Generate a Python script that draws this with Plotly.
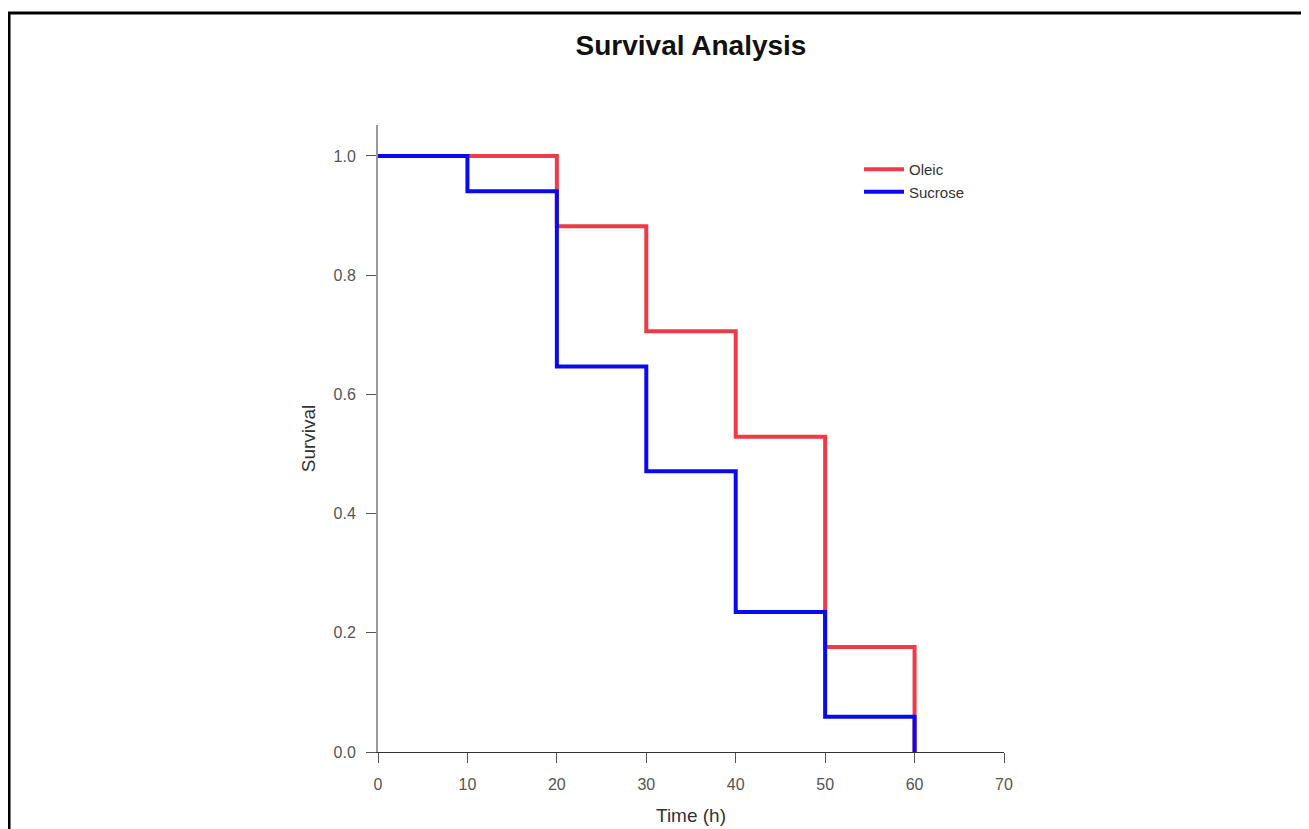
import plotly.graph_objects as go

# ---- data ----
oleic_time = [0, 20, 30, 40, 50, 60]
oleic_surv = [1.0, 0.882, 0.706, 0.529, 0.176, 0.0]
sucrose_time = [0, 10, 20, 30, 40, 50, 60]
sucrose_surv = [1.0, 0.941, 0.647, 0.471, 0.235, 0.059, 0.0]
x_ticks = [0, 10, 20, 30, 40, 50, 60, 70]
y_ticks = [0.0, 0.2, 0.4, 0.6, 0.8, 1.0]
y_tick_labels = ["0.0", "0.2", "0.4", "0.6", "0.8", "1.0"]

OFF = 8  # default body margin of the page
W, H = 1309 - OFF, 829 - OFF
# plot area in page pixels: x 378..1004, y 125..752
L, T = 378 - OFF, 125 - OFF
R = W - (1004 - OFF)
B = H - (752 - OFF)
pw, ph = W - L - R, H - T - B

def px_x(p):  # page pixel -> paper
    return (p - OFF - L) / pw

def px_y(p):
    return (H - B - (p - OFF)) / ph

FONT = "Liberation Sans, Arial, sans-serif"

fig = go.Figure()
fig.add_trace(go.Scatter(x=oleic_time, y=oleic_surv, mode="lines", name="Oleic",
                         line=dict(color="#ee3b47", width=4, shape="hv")))
fig.add_trace(go.Scatter(x=sucrose_time, y=sucrose_surv, mode="lines", name="Sucrose",
                         line=dict(color="#0a0aee", width=4, shape="hv")))

fig.update_layout(
    width=W, height=H, autosize=False,
    margin=dict(l=L, r=R, t=T, b=B, pad=0, autoexpand=False),
    paper_bgcolor="white", plot_bgcolor="white",
    font=dict(family=FONT, color="#444"),
    title=dict(text="<b>Survival Analysis</b>", x=0.5, xref="paper", xanchor="center",
               y=1 - (45 - OFF) / H, yref="container", yanchor="middle",
               font=dict(size=28, color="#111", family=FONT)),
    showlegend=True,
    legend=dict(x=px_x(859), y=px_y(153), xanchor="left", yanchor="top",
                bgcolor="rgba(0,0,0,0)", itemwidth=40,
                font=dict(size=15, color="#333", family=FONT), tracegroupgap=0),
    xaxis=dict(range=[0, 70], tickvals=x_ticks, ticks="outside", ticklen=10,
               tickcolor="#555", tickwidth=1, showline=True, linecolor="#333",
               linewidth=1, showgrid=False, zeroline=False, ticklabelstandoff=8,
               automargin=False, tickfont=dict(size=16, color="#555"),
               title=dict(text="Time (h)", font=dict(size=19, color="#333"), standoff=16)),
    yaxis=dict(range=[0, 1.052], tickvals=y_ticks, ticktext=y_tick_labels,
               ticks="outside", ticklen=10, tickcolor="#555", tickwidth=1,
               showline=True, linecolor="#999", linewidth=2, showgrid=False,
               zeroline=False, ticklabelstandoff=7, automargin=False,
               tickfont=dict(size=16, color="#555"),
               title=dict(text="Survival", font=dict(size=19, color="#333"), standoff=13)),
    shapes=[
        dict(type="line", xref="paper", yref="paper", x0=px_x(9), x1=px_x(9),
             y0=px_y(12), y1=px_y(840), line=dict(color="black", width=3)),
        dict(type="line", xref="paper", yref="paper", x0=px_x(8), x1=px_x(1320),
             y0=px_y(13), y1=px_y(13), line=dict(color="black", width=3)),
    ],
)

fig.write_html("out.html")
